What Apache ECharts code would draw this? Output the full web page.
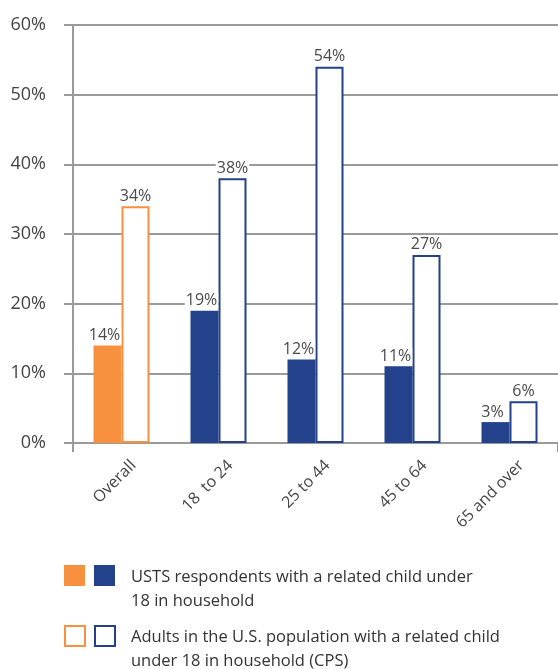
<!DOCTYPE html>
<html>
<head>
<meta charset="utf-8">
<script src="https://cdn.jsdelivr.net/npm/echarts@6/dist/echarts.min.js"></script>
<style>
  html, body { margin: 0; padding: 0; background: #fff; }
  #chart { width: 558px; height: 669px; }
</style>
</head>
<body>
<div id="chart"></div>
<script>
// 数据
let categories = ["Overall", "18  to 24", "25 to 44", "45 to 64", "65 and over"];
let ustsValues = [14, 19, 12, 11, 3];
let cpsValues = [34, 38, 54, 27, 6];
let yTicks = [0, 10, 20, 30, 40, 50, 60];
let legendNames = [
    "USTS respondents with a related child under\n18 in household",
    "Adults in the U.S. population with a related child\nunder 18 in household (CPS)"
];

let orange = "#F7913F";
let navy = "#23428B";
let gray = "#9a9a9a";
let font = "Open Sans";

function colorOf(i){
    return i === 0 ? orange : navy;
}

let chartDOM = document.getElementById("chart");
let chart = echarts.init(chartDOM);

let ustsData = [];
let cpsData = [];
for(let i = 0; i < categories.length; i++){
    ustsData.push({
        value: ustsValues[i],
        itemStyle: { color: colorOf(i) }
    });
    cpsData.push({
        value: cpsValues[i],
        itemStyle: { color: "#fff", borderColor: colorOf(i), borderWidth: 2 }
    });
}

let labelStyle = {
    show: true,
    position: "top",
    distance: 2,
    formatter: "{c}%",
    fontFamily: font,
    fontSize: 16,
    color: "#4a4a4a",
    backgroundColor: "#fff",
    padding: [0, 1, 0, 1]
};

let opts = {
    animation: false,
    grid: {
        left: 73,
        width: 488,
        top: 25,
        bottom: 226,
        containLabel: false
    },
    xAxis: {
        type: "category",
        data: categories,
        axisLine: { lineStyle: { color: gray, width: 2 } },
        axisTick: {
            show: true,
            length: 9,
            interval: function(i){ return i === 0; },
            lineStyle: { color: gray, width: 2 }
        },
        axisLabel: {
            rotate: 45,
            margin: 32,
            padding: [0, -17, 0, 0],
            fontFamily: font,
            fontSize: 16,
            color: "#444",
            interval: 0
        }
    },
    yAxis: {
        type: "value",
        min: yTicks[0],
        max: yTicks[yTicks.length - 1],
        interval: 10,
        axisLine: { show: true, lineStyle: { color: gray, width: 2 } },
        axisTick: { show: true, length: 9, lineStyle: { color: gray, width: 2 } },
        splitLine: { lineStyle: { color: gray, width: 2 } },
        axisLabel: {
            formatter: "{value}%",
            margin: 27,
            fontFamily: font,
            fontSize: 18,
            color: "#444"
        }
    },
    series: [
        {
            name: "USTS",
            type: "bar",
            barWidth: 28,
            barGap: "0%",
            data: ustsData,
            label: Object.assign({}, labelStyle, { offset: [-3, 0] })
        },
        {
            name: "CPS",
            type: "bar",
            barWidth: 28,
            barGap: "0%",
            data: cpsData,
            label: labelStyle
        }
    ],
    graphic: [
        { type: "rect", left: 64, top: 565, shape: { width: 21, height: 21 }, style: { fill: orange } },
        { type: "rect", left: 94, top: 565, shape: { width: 21, height: 21 }, style: { fill: navy } },
        { type: "rect", left: 64, top: 625, shape: { width: 20, height: 20 }, style: { fill: "#fff", stroke: orange, lineWidth: 2 } },
        { type: "rect", left: 94, top: 625, shape: { width: 20, height: 20 }, style: { fill: "#fff", stroke: navy, lineWidth: 2 } },
        {
            type: "text", left: 131, top: 565,
            style: { text: legendNames[0], font: "16.5px '" + font + "'", fill: "#333", lineHeight: 24 }
        },
        {
            type: "text", left: 131, top: 625,
            style: { text: legendNames[1], font: "16.5px '" + font + "'", fill: "#333", lineHeight: 24 }
        }
    ]
};

chart.setOption(opts);
</script>
</body>
</html>
